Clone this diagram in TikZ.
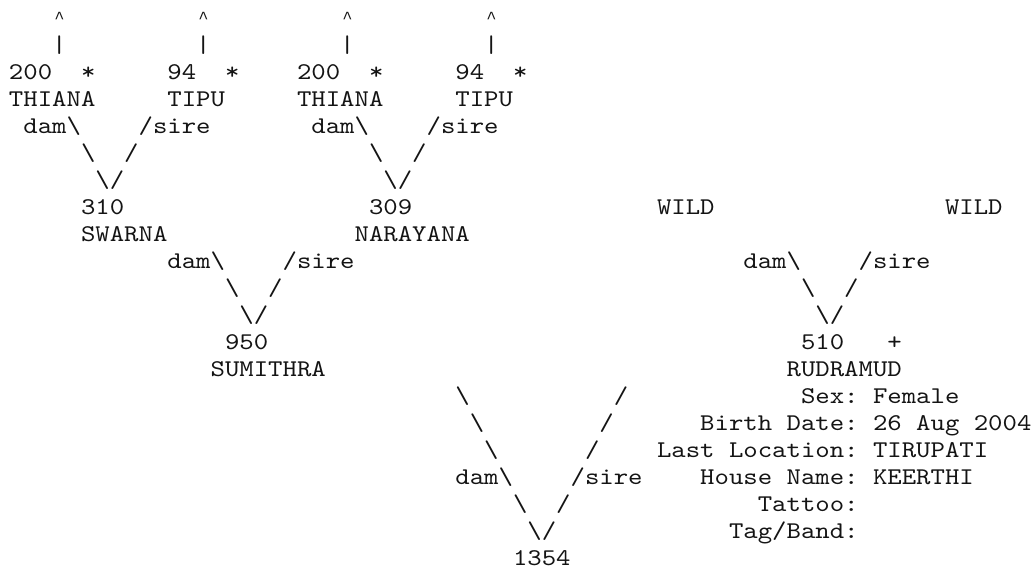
\documentclass[tikz,border=0pt]{standalone}
\usepackage{fontspec}
\newfontfamily\courfont[FakeStretch=1.1429]{lmmono10-regular.otf}
\newfontfamily\caretfont{Liberation Mono}
\definecolor{ink}{RGB}{20,20,20}
\tikzset{
  t/.style={anchor=base west, inner sep=0pt, outer sep=0pt, text=ink,
            font=\courfont\fontsize{24}{27}\selectfont\frenchspacing},
  caretnode/.style={anchor=base, inner sep=0pt, outer sep=0pt, text=ink,
            font=\caretfont\fontsize{17}{20}\selectfont}
}
\newcommand\tx[4]{\node[t] (#1) at ({9+#2*14.4},{25.5+(#3-1)*27}) {#4};}
\newcommand\up[2]{\node[caretnode] (#1) at ({9+(#2+0.5)*14.4},24) {\char"5E\relax};}
\newcommand\bs{\textbackslash}
\begin{document}
\begin{tikzpicture}[x=1pt,y=-1pt]
\useasboundingbox (0,0) rectangle (1035,575);
% row 1-2
\up{upa}{3}
\up{upb}{13}
\up{upc}{23}
\up{upd}{33}
\tx{bara}{3}{2}{|}
\tx{barb}{13}{2}{|}
\tx{barc}{23}{2}{|}
\tx{bard}{33}{2}{|}
% row 3
\tx{na}{0}{3}{200}
\tx{sa}{5}{3}{*}
\tx{nb}{11}{3}{94}
\tx{sb}{15}{3}{*}
\tx{nc}{20}{3}{200}
\tx{sc}{25}{3}{*}
\tx{nd}{31}{3}{94}
\tx{sd}{35}{3}{*}
% row 4
\tx{ma}{0}{4}{THIANA}
\tx{mb}{11}{4}{TIPU}
\tx{mc}{20}{4}{THIANA}
\tx{md}{31}{4}{TIPU}
% row 5-7
\tx{da}{1}{5}{dam\bs}
\tx{ra}{9}{5}{/sire}
\tx{db}{21}{5}{dam\bs}
\tx{rb}{29}{5}{/sire}
\tx{la6}{5}{6}{\bs}
\tx{ra6}{8}{6}{/}
\tx{lb6}{25}{6}{\bs}
\tx{rb6}{28}{6}{/}
\tx{va}{6}{7}{\bs/}
\tx{vb}{26}{7}{\bs/}
% row 8-9
\tx{n310}{5}{8}{310}
\tx{n309}{25}{8}{309}
\tx{wa}{45}{8}{WILD}
\tx{wb}{65}{8}{WILD}
\tx{m310}{5}{9}{SWARNA}
\tx{m309}{24}{9}{NARAYANA}
% row 10-12
\tx{dc}{11}{10}{dam\bs}
\tx{rc}{19}{10}{/sire}
\tx{dd}{51}{10}{dam\bs}
\tx{rd}{59}{10}{/sire}
\tx{lc11}{15}{11}{\bs}
\tx{rc11}{18}{11}{/}
\tx{ld11}{55}{11}{\bs}
\tx{rd11}{58}{11}{/}
\tx{vc}{16}{12}{\bs/}
\tx{vd}{56}{12}{\bs/}
% row 13-14
\tx{n950}{15}{13}{950}
\tx{n510}{55}{13}{510}
\tx{plus}{61}{13}{+}
\tx{m950}{14}{14}{SUMITHRA}
\tx{m510}{54}{14}{RUDRAMUD}
% rows 15-21
\tx{l15}{31}{15}{\bs}
\tx{r15}{42}{15}{/}
\tx{sex}{55}{15}{Sex: Female}
\tx{l16}{32}{16}{\bs}
\tx{r16}{41}{16}{/}
\tx{birth}{48}{16}{Birth Date: 26 Aug 2004}
\tx{l17}{33}{17}{\bs}
\tx{r17}{40}{17}{/}
\tx{loc}{45}{17}{Last Location: TIRUPATI}
\tx{de}{31}{18}{dam\bs}
\tx{re}{39}{18}{/sire}
\tx{house}{48}{18}{House Name: KEERTHI}
\tx{l19}{35}{19}{\bs}
\tx{r19}{38}{19}{/}
\tx{tattoo}{52}{19}{Tattoo:}
\tx{ve}{36}{20}{\bs/}
\tx{tag}{50}{20}{Tag/Band:}
\tx{n1354}{35}{21}{1354}
\end{tikzpicture}
\end{document}
